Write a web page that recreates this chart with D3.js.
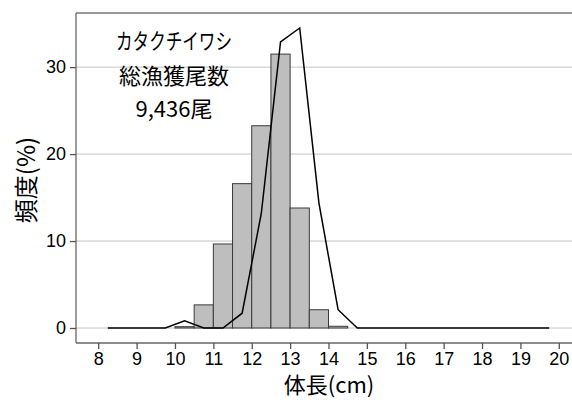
<!DOCTYPE html>
<html><head><meta charset="utf-8">
<script src="https://cdn.jsdelivr.net/npm/d3@7"></script>
<style>body{margin:0;background:#fff}svg{display:block}</style>
</head><body>
<script>
// Histogram bins (0.5 cm) - bar heights (%)
const binStarts = [8,8.5,9,9.5,10,10.5,11,11.5,12,12.5,13,13.5,14,14.5,15,15.5,16,16.5,17,17.5,18,18.5,19,19.5];
const barValues = [0,0,0,0,0.15,2.66,9.66,16.6,23.26,31.5,13.8,2.1,0.2,0,0,0,0,0,0,0,0,0,0,0];
// Line series at bin midpoints (%)
const lineX = [8.25,8.75,9.25,9.75,10.25,10.75,11.25,11.75,12.25,12.75,13.25,13.75,14.25,14.75,15.25,15.75,16.25,16.75,17.25,17.75,18.25,18.75,19.25,19.75];
const lineValues = [0,0,0,0,0.83,0,0,1.7,13.2,32.9,34.5,14.4,2.1,0,0,0,0,0,0,0,0,0,0,0];
const xTicks = [8,9,10,11,12,13,14,15,16,17,18,19,20];
const yTicks = [0,10,20,30];
const annot = ["カタクチイワシ","総漁獲尾数","9,436尾"];
const xTitle = "体長(cm)";
const yTitle = "頻度(%)";

const W = 572, H = 402;
const panel = {left:76, top:13, right:590, bottom:343};
const x = d3.scaleLinear().domain([8,20]).range([98.2,558.8]);
const y = d3.scaleLinear().domain([-1.725,36.225]).range([panel.bottom,panel.top]);
const numFont = "'Liberation Sans', Arial, sans-serif";
const cjkFont = "'Noto Sans CJK JP', 'Liberation Sans', sans-serif";

const svg = d3.select("body").append("svg").attr("width",W).attr("height",H);

// gridlines
svg.append("g").selectAll("line").data(yTicks).join("line")
  .attr("x1",panel.left).attr("x2",panel.right)
  .attr("y1",d=>y(d)).attr("y2",d=>y(d))
  .attr("stroke","#c4c4c4").attr("stroke-width",1);

// bars
svg.append("g").selectAll("rect").data(binStarts).join("rect")
  .attr("x",d=>x(d)).attr("width",d=>x(d+0.5)-x(d))
  .attr("y",(d,i)=>y(barValues[i])).attr("height",(d,i)=>y(0)-y(barValues[i]))
  .attr("fill","#bebebe").attr("stroke","#3a3a3a").attr("stroke-width",1);

// line
svg.append("path").datum(lineX.map((d,i)=>[d,lineValues[i]]))
  .attr("d",d3.line().x(d=>x(d[0])).y(d=>y(d[1])))
  .attr("fill","none").attr("stroke","#000").attr("stroke-width",1.5);

// panel border
svg.append("line").attr("x1",panel.left).attr("x2",W).attr("y1",panel.top).attr("y2",panel.top)
  .attr("stroke","#777").attr("stroke-width",1.3);

// axes
const xAxis = svg.append("g").attr("transform",`translate(0,${panel.bottom})`)
  .call(d3.axisBottom(x).tickValues(xTicks).tickSize(6).tickPadding(3).tickFormat(d3.format("d")));
xAxis.select(".domain").attr("d",`M${panel.left},0H${W}`).attr("stroke","#666").attr("stroke-width",1.3);
xAxis.selectAll(".tick line").attr("stroke","#555").attr("stroke-width",1.3);
xAxis.selectAll("text").attr("font-family",numFont).attr("font-size",18).attr("fill","#000");

const yAxis = svg.append("g").attr("transform",`translate(${panel.left},0)`)
  .call(d3.axisLeft(y).tickValues(yTicks).tickSize(6).tickPadding(4));
yAxis.select(".domain").attr("d",`M0,${panel.top}V${panel.bottom}`).attr("stroke","#666").attr("stroke-width",1.3);
yAxis.selectAll(".tick line").attr("stroke","#555").attr("stroke-width",1.3);
yAxis.selectAll("text").attr("font-family",numFont).attr("font-size",18).attr("fill","#000");

// titles
svg.append("text").attr("x",329).attr("y",393).attr("text-anchor","middle")
  .attr("font-family",cjkFont).attr("font-size",22).attr("fill","#000").text(xTitle);
svg.append("text").attr("transform","translate(24,180) rotate(-90)").attr("text-anchor","middle").attr("dominant-baseline","central")
  .attr("font-family",cjkFont).attr("font-size",24).attr("fill","#000").text(yTitle);

// annotation
const annY = [39,74,107];
annot.forEach((t,i)=>{
  const el = svg.append("text").attr("x",174).attr("y",annY[i]).attr("text-anchor","middle").attr("dominant-baseline","central")
    .attr("font-family",cjkFont).attr("font-size",22).attr("fill","#000").text(t);
  if(i===0) el.attr("textLength",116).attr("lengthAdjust","spacingAndGlyphs");
});
</script>
</body></html>
